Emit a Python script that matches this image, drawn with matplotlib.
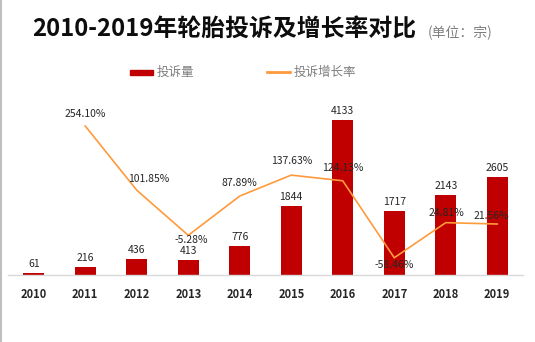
import matplotlib.pyplot as plt
from matplotlib.lines import Line2D
from matplotlib.patches import Rectangle

plt.rcParams['font.family'] = ['Noto Sans CJK SC', 'DejaVu Sans']

years = ['2010', '2011', '2012', '2013', '2014', '2015', '2016', '2017', '2018', '2019']
complaints = [61, 216, 436, 413, 776, 1844, 4133, 1717, 2143, 2605]
growth_years = years[1:]
growth = [254.10, 101.85, -5.28, 87.89, 137.63, 124.13, -58.46, 24.81, 21.56]

# label offsets (pixels) for the growth-rate labels
growth_offsets = [(0, 12), (12, 11), (3, -5), (0, 13), (0, 14), (0, 13), (0, -7), (1, 10), (-6, 8)]

bar_color = '#C00000'
line_color = '#FF9A3C'

fig = plt.figure(figsize=(5.35, 3.42), dpi=100)
ax = fig.add_axes([8 / 535, (342 - 275) / 342, 515 / 535, 180 / 342])

x = list(range(len(years)))
ax.bar(x, complaints, width=0.4, color=bar_color, zorder=2)
for xi, v in zip(x, complaints):
    ax.annotate(str(v), (xi, v), xytext=(0, 4), textcoords='offset pixels',
                ha='center', va='bottom', fontsize=7.5, color='#262626')

ax.set_xlim(-0.5, 9.5)
ax.set_ylim(0, 4800)
ax.set_yticks([])
for s in ['top', 'right', 'left']:
    ax.spines[s].set_visible(False)
ax.spines['bottom'].set_color('#D9D9D9')
ax.spines['bottom'].set_linewidth(1)
ax.set_xticks(x)
ax.set_xticklabels(years, fontsize=8, fontweight='bold', color='#262626')
ax.tick_params(axis='x', length=0, pad=9)

ax2 = ax.twinx()
gx = x[1:]
ax2.plot(gx, growth, color=line_color, linewidth=1.2, zorder=3)
ax2.set_ylim(-99.4, 327.7)
ax2.set_yticks([])
for s in ['top', 'right', 'left', 'bottom']:
    ax2.spines[s].set_visible(False)
for xi, v, (dx, dy) in zip(gx, growth, growth_offsets):
    ax2.annotate(f'{v:.2f}%', (xi, v), xytext=(dx, dy), textcoords='offset pixels',
                 ha='center', va='center', fontsize=7.5, color='#262626')

# title
fig.text(32 / 535, 1 - 30 / 342, '2010-2019年轮胎投诉及增长率对比', fontsize=17.2,
         fontweight='bold', color='#0D0D0D', ha='left', va='center')
fig.text(428 / 535, 1 - 33 / 342, '(单位：宗)', fontsize=10, color='#7F7F7F',
         ha='left', va='center')

# legend
fig.patches.append(Rectangle((130 / 535, 1 - 75 / 342), 23 / 535, 5 / 342,
                             transform=fig.transFigure, color=bar_color))
fig.text(157 / 535, 1 - 72 / 342, '投诉量', fontsize=9, color='#7F7F7F', va='center')
fig.lines.append(Line2D([267 / 535, 290 / 535], [1 - 72 / 342, 1 - 72 / 342],
                        transform=fig.transFigure, color=line_color, linewidth=2))
fig.text(294 / 535, 1 - 72 / 342, '投诉增长率', fontsize=9, color='#7F7F7F', va='center')

# left border line
fig.lines.append(Line2D([1 / 535, 1 / 535], [0, 1], transform=fig.transFigure,
                        color='#BFBFBF', linewidth=1.5))

fig.savefig('out.png', dpi=100)
